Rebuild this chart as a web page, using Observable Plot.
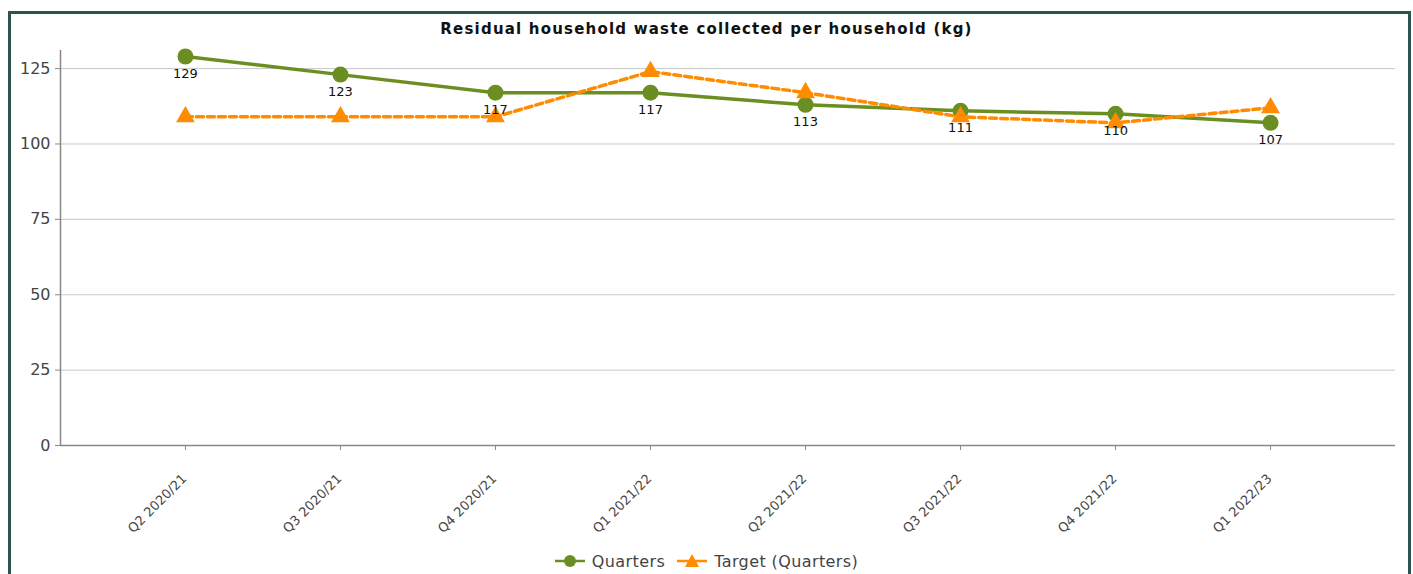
<!DOCTYPE html>
<html>
<head>
<meta charset="utf-8">
<script src="https://cdn.jsdelivr.net/npm/d3@7"></script>
<script src="https://cdn.jsdelivr.net/npm/@observablehq/plot@0.6"></script>
<style>
  html, body { margin: 0; padding: 0; background: #fff; width: 1413px; height: 574px; overflow: hidden; font-family: "DejaVu Sans", sans-serif; }
  #frame { position: absolute; left: 8px; top: 11px; width: 1397px; height: 600px; border: 3px solid #2d5250; border-bottom: none; }
  #title { position: absolute; left: 0; width: 1413px; top: 20px; text-align: center; font: bold 15px "DejaVu Sans", sans-serif; letter-spacing: 1.2px; color: #111; }
  #chart { position: absolute; left: 0; top: 0; }
  #legend { position: absolute; left: 0; width: 1413px; top: 551px; display: flex; justify-content: center; align-items: center; gap: 12px; font: 16px "DejaVu Sans", sans-serif; letter-spacing: 0.4px; color: #444; }
  #legend span.item { display: inline-flex; align-items: center; gap: 7px; }
</style>
</head>
<body>
<div id="frame"></div>
<div id="chart"></div>
<div id="title">Residual household waste collected per household (kg)</div>
<div id="legend"></div>
<script>
const quarters = ["Q2 2020/21", "Q3 2020/21", "Q4 2020/21", "Q1 2021/22", "Q2 2021/22", "Q3 2021/22", "Q4 2021/22", "Q1 2022/23"];
const actual = [129, 123, 117, 117, 113, 111, 110, 107];
const target = [109, 109, 109, 124, 117, 109, 107, 112];
const yTicks = [0, 25, 50, 75, 100, 125];
const seriesNames = ["Quarters", "Target (Quarters)"];
const colors = ["#6b8e23", "#ff8c00"];

const actualData = quarters.map((q, i) => ({i, q, v: actual[i]}));
const targetData = quarters.map((q, i) => ({i, q, v: target[i]}));
const idx = quarters.map((q, i) => i);
const pad = 0.806;
const xDomain = [-pad, quarters.length - 1 + pad];
const yMax = 131;

const chart = Plot.plot({
  width: 1413,
  height: 574,
  marginLeft: 60,
  marginRight: 18,
  marginTop: 50,
  marginBottom: 129,
  style: {fontFamily: "DejaVu Sans, sans-serif", background: "transparent"},
  x: {domain: xDomain, label: null, axis: null},
  y: {domain: [0, yMax], label: null, axis: null},
  marks: [
    Plot.gridY(yTicks, {stroke: "#c8c8c8", strokeOpacity: 1}),
    Plot.axisY(yTicks, {tickSize: 5, tickPadding: 5, fontSize: 16, fill: "#444", stroke: "#888", label: null}),
    Plot.axisX(idx, {tickSize: 5, stroke: "#888", tickFormat: () => "", label: null}),
    Plot.text(idx, {x: d => d, frameAnchor: "bottom", text: d => quarters[d], rotate: -45, textAnchor: "end", lineAnchor: "middle", dx: -1, dy: 31, fontSize: 13, fill: "#444", style: "letter-spacing: 0.4px"}),
    Plot.ruleY([0], {stroke: "#888", strokeWidth: 1.5}),
    Plot.ruleX([xDomain[0]], {y1: 0, y2: yMax, stroke: "#888", strokeWidth: 1.5}),
    Plot.line(actualData, {x: "i", y: "v", stroke: colors[0], strokeWidth: 3.5}),
    Plot.dot(actualData, {x: "i", y: "v", r: 8, fill: colors[0], stroke: "none"}),
    Plot.line(targetData, {x: "i", y: "v", stroke: colors[1], strokeWidth: 3.5, strokeDasharray: "7,4"}),
    Plot.dot(targetData, {x: "i", y: "v", r: 7, symbol: "triangle", fill: colors[1], stroke: "none"}),
    Plot.text(actualData, {x: "i", y: "v", text: d => String(d.v), dy: 17, fontSize: 13, fill: "#111"})
  ]
});
document.getElementById("chart").appendChild(chart);

// legend
const legend = document.getElementById("legend");
seriesNames.forEach((name, k) => {
  const item = document.createElement("span");
  item.className = "item";
  const sym = k === 0
    ? `<circle cx="15" cy="10" r="6" fill="${colors[k]}"/>`
    : `<path d="M15,3 L22,16 L8,16 Z" fill="${colors[k]}"/>`;
  item.innerHTML = `<svg width="30" height="20"><line x1="0" x2="30" y1="10" y2="10" stroke="${colors[k]}" stroke-width="2.5"/>${sym}</svg><span>${name}</span>`;
  legend.appendChild(item);
});
</script>
</body>
</html>
